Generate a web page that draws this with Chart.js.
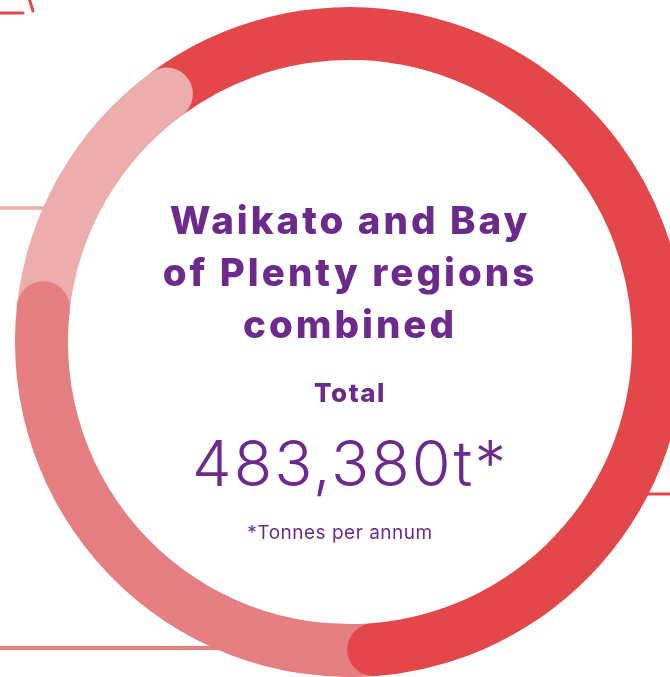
<!DOCTYPE html>
<html>
<head>
<meta charset="utf-8">
<script src="https://cdn.jsdelivr.net/npm/chart.js@4/dist/chart.umd.min.js"></script>
<style>
  html, body { margin: 0; padding: 0; background: #fff; }
  body { width: 670px; height: 677px; overflow: hidden; position: relative; font-family: "Inter", sans-serif; }
  #deco { position: absolute; left: 0; top: 0; z-index: 0; }
  #wrap { position: absolute; left: 15px; top: 7px; width: 670px; height: 670px; z-index: 1; }
  .centre { position: absolute; left: 100px; width: 500px; text-align: center; color: #6b2a8c; z-index: 2; white-space: nowrap; }
  #heading { top: 194px; font-size: 38.5px; font-weight: 800; line-height: 52px; letter-spacing: 3px; }
  #totalLabel { top: 377px; font-size: 26px; font-weight: 800; letter-spacing: 1.5px; }
  #totalValue { top: 425px; font-size: 63px; font-weight: 300; letter-spacing: 2px; }
  #note { top: 521px; left: 90px; font-size: 19px; font-weight: 400; letter-spacing: 0.5px; }
</style>
</head>
<body>
<svg id="deco" width="670" height="677">
  <g stroke-linecap="round" fill="none">
    <line x1="-2" y1="13" x2="23" y2="13" stroke="#e4474a" stroke-width="3"/>
    <line x1="29" y1="-2" x2="33" y2="11" stroke="#e4474a" stroke-width="3"/>
    <line x1="-2" y1="208" x2="100" y2="208" stroke="#ecadac" stroke-width="3.5"/>
    <line x1="600" y1="494" x2="672" y2="494" stroke="#e4474a" stroke-width="3"/>
    <line x1="-2" y1="648" x2="260" y2="648" stroke="#e47e80" stroke-width="4"/>
  </g>
</svg>
<div id="wrap"><canvas id="chart"></canvas></div>
<div class="centre" id="heading">Waikato and Bay<br>of Plenty regions<br>combined</div>
<div class="centre" id="totalLabel">Total</div>
<div class="centre" id="totalValue">483,380t*</div>
<div class="centre" id="note">*Tonnes per annum</div>
<script>
const segmentLabels = ["Segment A", "Segment B", "Segment C"];
const segmentTonnes = [284800, 135300, 63280];
const segmentColours = ["#e4474a", "#e47e80", "#ecadac"];

// each segment gets a round cap at its clockwise end, laid over the next one
const roundEnds = {
  id: "roundEnds",
  afterDatasetsDraw(chart) {
    const ctx = chart.ctx;
    chart.getDatasetMeta(0).data.forEach((arc, i) => {
      const p = arc.getProps(["x", "y", "endAngle", "innerRadius", "outerRadius"], true);
      const mid = (p.innerRadius + p.outerRadius) / 2;
      const r = (p.outerRadius - p.innerRadius) / 2;
      ctx.save();
      ctx.fillStyle = segmentColours[i];
      ctx.beginPath();
      ctx.arc(p.x + mid * Math.cos(p.endAngle), p.y + mid * Math.sin(p.endAngle), r, 0, Math.PI * 2);
      ctx.fill();
      ctx.restore();
    });
  },
};

new Chart(document.getElementById("chart"), {
  type: "doughnut",
  data: {
    labels: segmentLabels,
    datasets: [{
      data: segmentTonnes,
      backgroundColor: segmentColours,
      borderWidth: 0,
    }],
  },
  options: {
    responsive: true,
    maintainAspectRatio: false,
    animation: false,
    rotation: -36.5,
    cutout: "84.2%",
    layout: { padding: 0 },
    plugins: {
      legend: { display: false },
      tooltip: { enabled: false },
    },
  },
  plugins: [roundEnds],
});
</script>
</body>
</html>
